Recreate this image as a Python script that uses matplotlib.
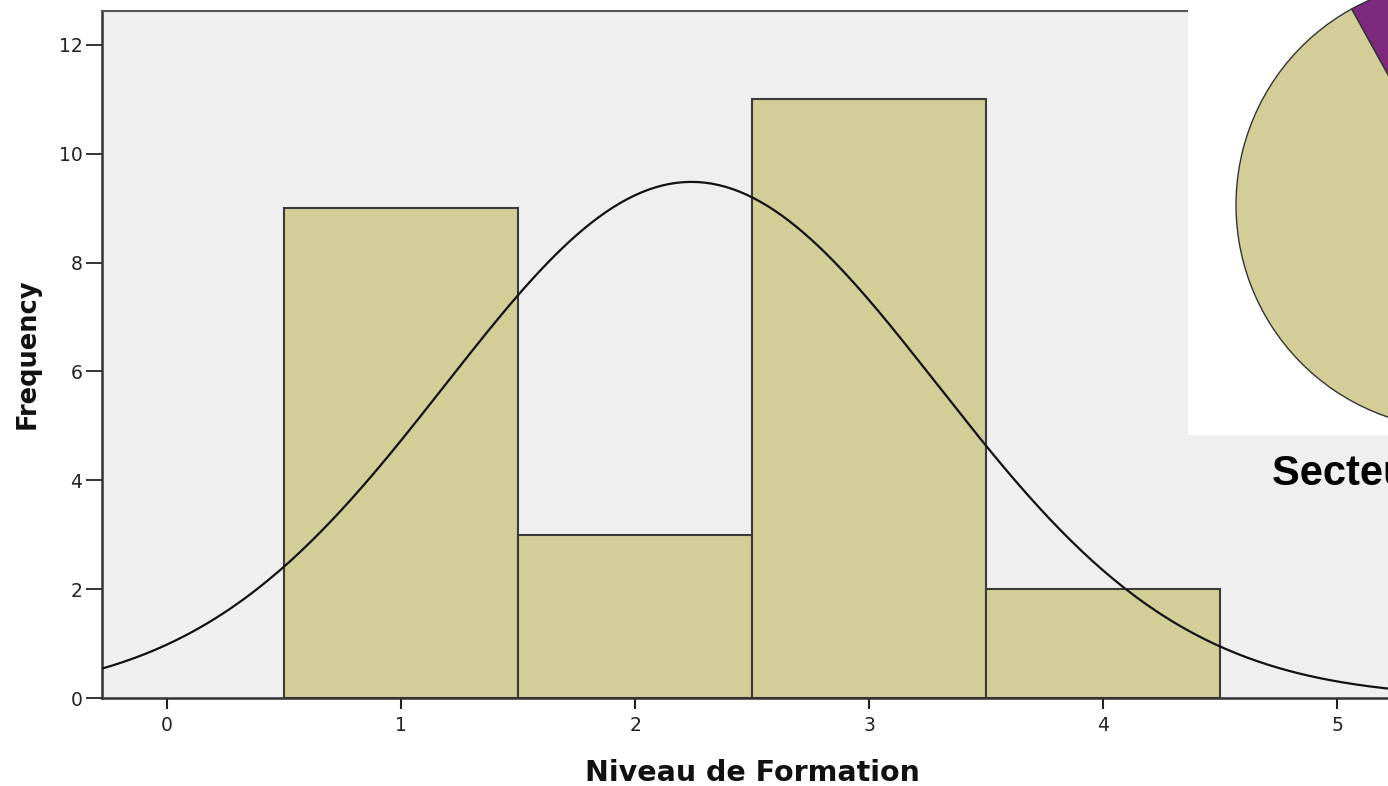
import numpy as np
import matplotlib.pyplot as plt

# histogram data: Niveau de Formation
levels = [1, 2, 3, 4]
counts = [9, 3, 11, 2]
y_ticks = [0, 2, 4, 6, 8, 10, 12]
x_ticks = [0, 1, 2, 3, 4, 5]

# pie in the corner (only a part of it is visible)
sector_shares = [52, 20, 20, 8]
sector_colors = ['#d3ce97', '#3e58ac', '#48c2c5', '#7d2a7e']

BAR_COLOR = '#d3ce97'
BG = '#efefef'


def normal_curve(levels, counts, x):
    vals = np.repeat(levels, counts)
    mu = vals.mean()
    sd = vals.std(ddof=1)
    n = len(vals)
    return n * np.exp(-0.5 * ((x - mu) / sd) ** 2) / (sd * np.sqrt(2 * np.pi))


def main():
    fig = plt.figure(figsize=(13.88, 7.86), dpi=100)
    W, H = 1388, 786

    ax = fig.add_axes([102 / W, 88 / H, 1 - 102 / W, 687 / H])
    ax.set_facecolor(BG)
    ax.bar(levels, counts, width=1.0, color=BAR_COLOR, edgecolor='#3a3a3a',
           linewidth=1.5, zorder=2)
    xs = np.linspace(-0.5, 5.5, 400)
    ax.plot(xs, normal_curve(levels, counts, xs), color='#111111', lw=1.6, zorder=3)

    ax.set_xlim(-0.278, 5.216)
    ax.set_ylim(0, 12.62)
    ax.set_xticks(x_ticks)
    ax.set_yticks(y_ticks)
    ax.tick_params(axis='x', length=8, width=1.5, pad=5, labelsize=13.5,
                   colors='#222222')
    ax.tick_params(axis='y', length=11.5, width=1.3, pad=2.5, labelsize=13.5,
                   colors='#222222')
    for s in ['left', 'bottom']:
        ax.spines[s].set_linewidth(1.8)
        ax.spines[s].set_color('#333333')
    ax.spines['top'].set_linewidth(1.5)
    ax.spines['top'].set_color('#555555')
    ax.spines['right'].set_visible(False)

    fig.text(752 / W, 1 - 773 / H, 'Niveau de Formation', ha='center', va='center',
             fontsize=20.5, fontweight='bold', color='#111111')
    fig.text(28 / W, 1 - 354 / H, 'Frequency', ha='center', va='center',
             rotation=90, fontsize=18.5, fontweight='bold', color='#111111')

    # pie chart overlapping the top right corner
    pax = fig.add_axes([1188 / W, 1 - 435 / H, 200 / W, 435 / H])
    pax.pie(sector_shares, colors=sector_colors, startangle=118.9,
            center=(1460, H - 205), radius=224,
            wedgeprops=dict(edgecolor='#333333', linewidth=1.0))
    pax.set_xlim(1188, 1388)
    pax.set_ylim(H - 435, H)
    pax.set_aspect('auto')
    pax.set_facecolor('white')
    pax.set_frame_on(True)
    for s in pax.spines.values():
        s.set_visible(False)
    pax.patch.set_visible(True)
    pax.set_xticks([])
    pax.set_yticks([])

    fig.text(1272 / W, 1 - 485 / H, "Secteur d'activité", ha='left', va='baseline',
             fontsize=30, fontweight='bold', family='Liberation Sans', color='black')

    fig.savefig('out.png', dpi=100, facecolor='white')
    plt.close(fig)


if __name__ == '__main__':
    main()
